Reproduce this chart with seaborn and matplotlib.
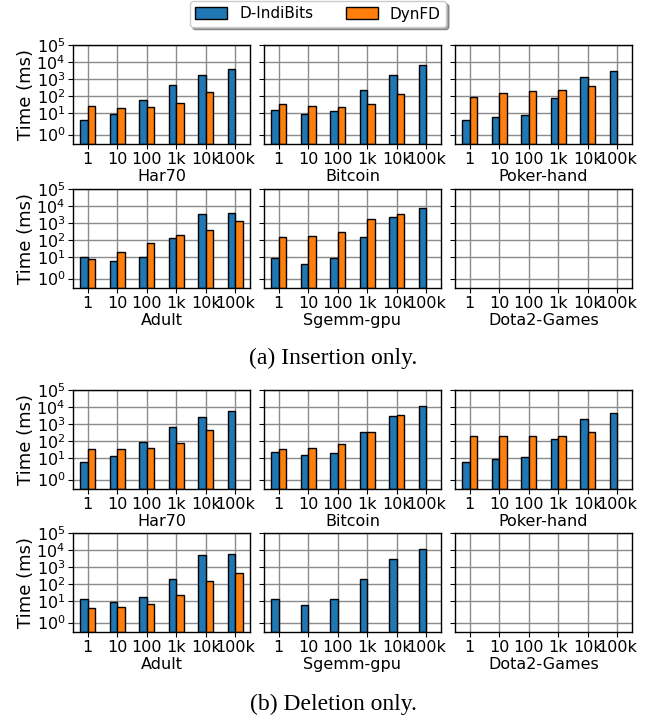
import matplotlib
matplotlib.use("Agg")
import matplotlib.pyplot as plt
import numpy as np
import pandas as pd
import seaborn as sns
from matplotlib.patches import Patch
from matplotlib.ticker import NullLocator

SIZES = ["1", "10", "100", "1k", "10k", "100k"]
METHODS = ["D-IndiBits", "DynFD"]
COLORS = ["#1f77b4", "#ff7f0e"]
DATASETS = ["Har70", "Bitcoin", "Poker-hand", "Adult", "Sgemm-gpu", "Dota2-Games"]
nan = np.nan

# (a) Insertion only, times in ms
ins_indibits = {
    "Har70": [4.0, 8.7, 57, 447, 1630, 4000],
    "Bitcoin": [15.6, 9.5, 13.7, 219, 1780, 7150],
    "Poker-hand": [4.0, 6.0, 7.9, 82, 1250, 2800],
    "Adult": [10, 6.3, 10.9, 134, 3500, 4170],
    "Sgemm-gpu": [9.5, 4.2, 9.0, 146, 2140, 8100],
    "Dota2-Games": [nan] * 6,
}
ins_dynfd = {
    "Har70": [26.7, 21.4, 24.4, 41.7, 174, nan],
    "Bitcoin": [35, 28, 24.4, 36.5, 140, nan],
    "Poker-hand": [89, 153, 212, 215, 391, nan],
    "Adult": [8.3, 19.5, 68, 191, 390, 1250],
    "Sgemm-gpu": [160, 175, 313, 1710, 3200, nan],
    "Dota2-Games": [nan] * 6,
}
# (b) Deletion only, times in ms
del_indibits = {
    "Har70": [6.3, 13.7, 89, 700, 2560, 6250],
    "Bitcoin": [23.4, 15, 21.4, 342, 2800, 11700],
    "Poker-hand": [6.0, 9.0, 12.5, 128, 1950, 4560],
    "Adult": [14.3, 8.7, 16.4, 200, 5200, 6250],
    "Sgemm-gpu": [14.3, 5.8, 13, 209, 3050, 11200],
    "Dota2-Games": [nan] * 6,
}
del_dynfd = {
    "Har70": [36.5, 36.5, 40, 82, 447, nan],
    "Bitcoin": [33.4, 38, 68, 335, 3340, nan],
    "Poker-hand": [191, 191, 191, 209, 357, nan],
    "Adult": [4.2, 4.8, 6.9, 22, 153, 470],
    "Sgemm-gpu": [nan] * 6,
    "Dota2-Games": [nan] * 6,
}

W, H = 666, 717
LEFTS = [73, 264, 455]
AX_W = 177
ROW_TOPS = [45, 189, 390, 533]
AX_H = 99
FS = 11.5


def to_frame(indibits, dynfd, name):
    rows = []
    for method, d in zip(METHODS, (indibits, dynfd)):
        for size, val in zip(SIZES, d[name]):
            rows.append({"size": size, "method": method, "time": val})
    return pd.DataFrame(rows)


def style_axis(ax, first_col, name):
    ax.set_yscale("symlog", linthresh=2)
    ax.set_ylim(0, 1e5)
    ax.set_yticks([1, 10, 100, 1e3, 1e4, 1e5])
    ax.yaxis.set_minor_locator(NullLocator())
    ax.set_xlim(-0.5, 5.5)
    ax.set_xticks(range(6))
    ax.set_xticklabels(SIZES)
    ax.grid(True, color="0.55", linewidth=1)
    ax.set_axisbelow(True)
    ax.set_xlabel(name, fontsize=FS, labelpad=2)
    ax.tick_params(labelsize=FS, length=3.5, pad=2)
    if first_col:
        ax.set_ylabel("Time (ms)", fontsize=FS + 1.5, labelpad=1)
    else:
        ax.set_ylabel("")
        ax.set_yticklabels([])
    for s in ax.spines.values():
        s.set_color("black")
        s.set_linewidth(1)


def draw_block(fig, indibits, dynfd, row_offset):
    for i, name in enumerate(DATASETS):
        r, c = divmod(i, 3)
        top = ROW_TOPS[row_offset + r]
        ax = fig.add_axes([LEFTS[c] / W, 1 - (top + AX_H) / H, AX_W / W, AX_H / H])
        df = to_frame(indibits, dynfd, name)
        if df["time"].notna().any():
            sns.barplot(data=df.dropna(), x="size", y="time", hue="method",
                        order=SIZES, hue_order=METHODS, palette=COLORS,
                        width=0.5, dodge=True, saturation=1,
                        edgecolor="black", linewidth=1, ax=ax, legend=False)
        style_axis(ax, c == 0, name)


plt.rcParams["font.family"] = "DejaVu Sans"
plt.rcParams["mathtext.fontset"] = "dejavusans"
fig = plt.figure(figsize=(W / 100, H / 100), dpi=100)

draw_block(fig, ins_indibits, ins_dynfd, 0)
draw_block(fig, del_indibits, del_dynfd, 2)

handles = [Patch(facecolor=col, edgecolor="black", label=m) for m, col in zip(METHODS, COLORS)]
fig.legend(handles=handles, loc="center", bbox_to_anchor=(318 / W, 1 - 14 / H),
           ncol=2, shadow=True, fontsize=11, handlelength=2.1, handleheight=0.8,
           columnspacing=2.1, borderpad=0.35, frameon=True)

fig.text(0.5, 1 - 358 / H, "(a) Insertion only.", ha="center", va="center",
         family="Liberation Serif", fontsize=17)
fig.text(0.5, 1 - 704 / H, "(b) Deletion only.", ha="center", va="center",
         family="Liberation Serif", fontsize=17)

fig.savefig("out.png", dpi=100)
